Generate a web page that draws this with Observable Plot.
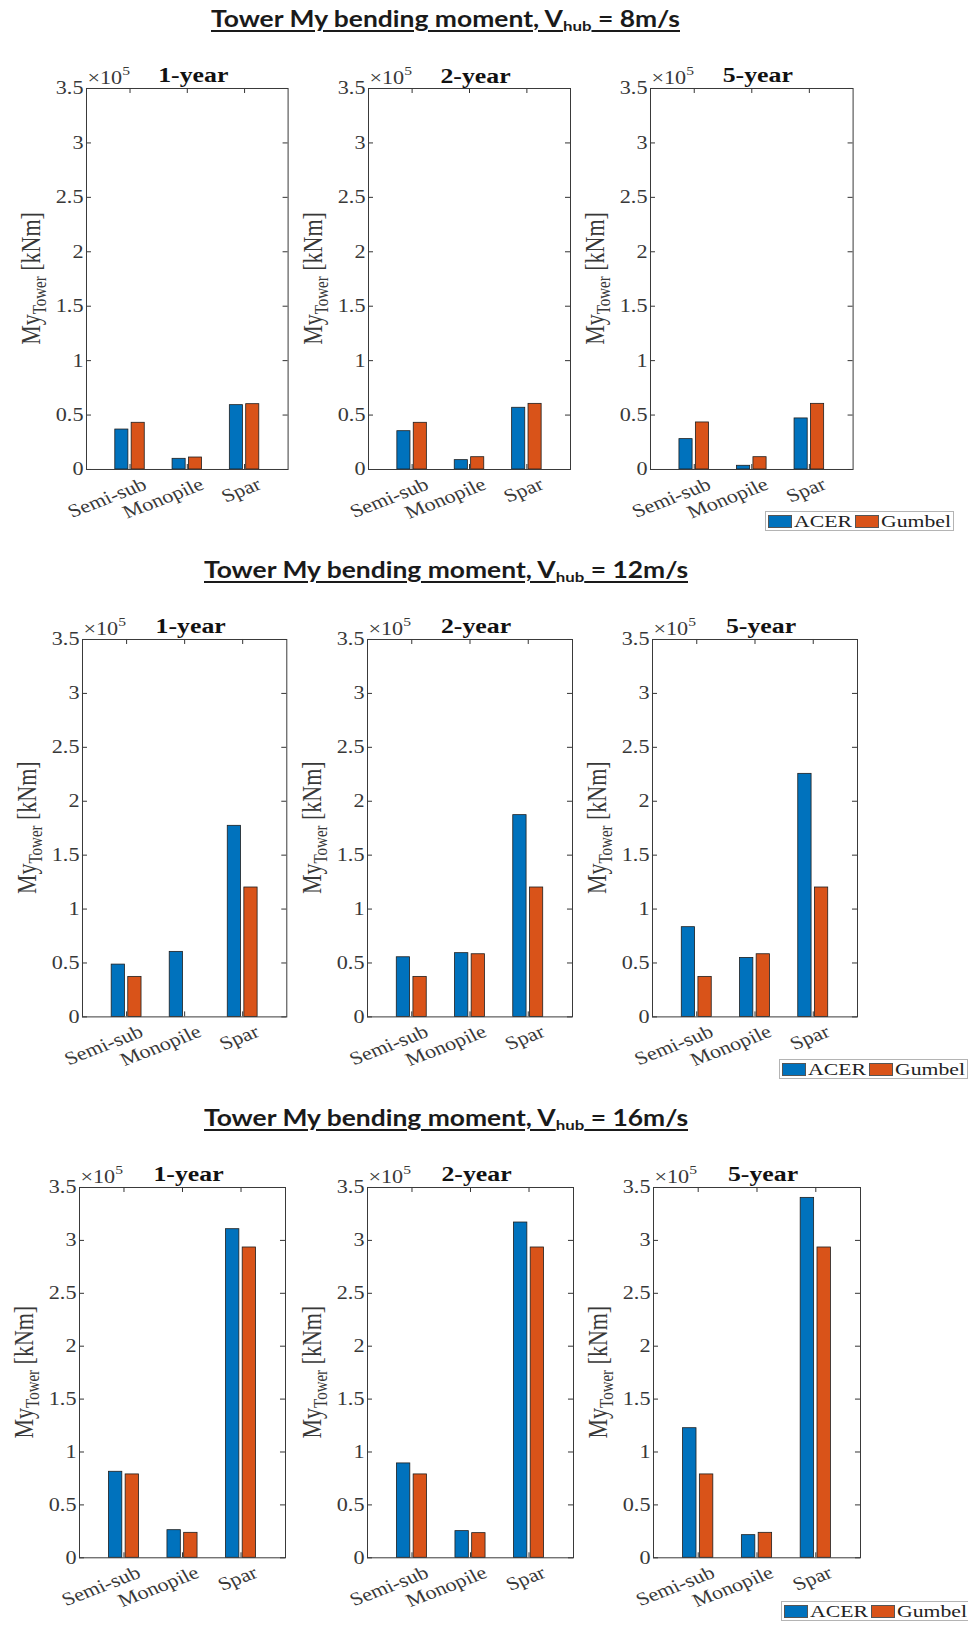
<!DOCTYPE html>
<html><head><meta charset="utf-8">
<script src="https://cdn.jsdelivr.net/npm/d3@7"></script>
<script src="https://cdn.jsdelivr.net/npm/@observablehq/plot@0.6"></script>
<style>
body{margin:0;background:#fff;}
#root{position:relative;width:968px;height:1625px;overflow:hidden;background:#fff;}
.title{position:absolute;font-family:Lato,"Open Sans",sans-serif;font-weight:700;font-size:22px;line-height:22px;color:#1a1a1a;white-space:nowrap;transform-origin:left top;text-decoration:underline;text-decoration-thickness:1.5px;text-underline-offset:3px;}
.title sub{font-size:14px;vertical-align:-4px;line-height:0;}
.panel{position:absolute;}
.legend{position:absolute;border:1px solid #b4b4b4;background:#fff;display:flex;align-items:center;font-family:"Liberation Serif","Times New Roman",serif;font-size:17.5px;color:#222;box-sizing:border-box;padding-left:1px;}
.legend .sw{display:inline-block;width:24px;height:13px;border:1px solid #555;box-sizing:border-box;flex:none;}
.legend .lb{display:inline-block;flex:none;overflow:visible;white-space:nowrap;}
.legend .lb span{display:inline-block;transform-origin:left center;transform:scaleX(1.24);}
</style></head><body><div id="root"></div>
<script>
// ---------- data ----------
const categories = ["Semi-sub", "Monopile", "Spar"];
const series = ["ACER", "Gumbel"];
const periods = ["1-year", "2-year", "5-year"];
const windSpeeds = ["8m/s", "12m/s", "16m/s"];
const yTickValues = [0, 50000, 100000, 150000, 200000, 250000, 300000, 350000];

// Tower My bending moment [kNm]; one row per return period: [Semi-sub, Monopile, Spar]
const acerV8 = [[36700, 9800, 59100], [35200, 8600, 56700], [27900, 3400, 46900]];
const gumbelV8 = [[42900, 11000, 60000], [42900, 11300, 60300], [43200, 11300, 60300]];
const acerV12 = [[48500, 60300, 177200], [55300, 59100, 187100], [83200, 54700, 225400]];
const gumbelV12 = [[37100, 0, 120000], [37100, 58100, 120000], [37100, 58100, 120000]];
const acerV16 = [[81300, 26100, 310600], [89200, 25200, 316900], [122500, 21400, 340200]];
const gumbelV16 = [[78800, 23600, 293300], [78800, 23300, 293300], [78800, 23600, 293300]];

const acerAll = [acerV8, acerV12, acerV16];
const gumbelAll = [gumbelV8, gumbelV12, gumbelV16];

// ---------- layout (styles only) ----------
const layout = [
  {titleBaseline: 27, titleCenter: 445, titleWidth: 469, top: 88.3, bottom: 469.3,
   lefts: [85.7, 368.3, 649.7], rights: [287.3, 570.3, 852.3], legend: {x: 765, y: 511, w: 189, h: 20}},
  {titleBaseline: 578, titleCenter: 446, titleWidth: 484, top: 639.3, bottom: 1016.7,
   lefts: [81.7, 367.3, 652.3], rights: [286, 572.3, 857.3], legend: {x: 779, y: 1059, w: 189, h: 20}},
  {titleBaseline: 1126, titleCenter: 446, titleWidth: 484, top: 1186.7, bottom: 1557,
   lefts: [79.3, 367.3, 653], rights: [285.3, 573.3, 860], legend: {x: 781, y: 1601, w: 189, h: 20}}
];
const STRETCH = 1.2;
const FONT = "'Liberation Serif','Times New Roman',serif";
const root = document.getElementById("root");

function stretchTexts(svg) {
  d3.select(svg).selectAll("text").each(function () {
    const t = this.getAttribute("transform");
    if (t && /translate\(/.test(t)) {
      this.setAttribute("transform", t.replace(/(translate\([^)]*\))/, `$1 scale(${STRETCH},1)`));
    } else {
      const x = +this.getAttribute("x") || 0, y = +this.getAttribute("y") || 0;
      this.setAttribute("transform", `translate(${x},${y}) scale(${STRETCH},1) translate(${-x},${-y})` + (t ? " " + t : ""));
    }
  });
}

function panel(acer, gumbel, pIdx, L) {
  const fl = L.lefts[pIdx], fr = L.rights[pIdx];
  const fw = fr - fl, fh = L.bottom - L.top;
  const ML = 80, MR = 14, MT = 42, MB = 72;
  const rows = [];
  categories.forEach((c, i) => {
    rows.push({cat: c, pos: i + 1, series: series[0], value: acer[i]});
    rows.push({cat: c, pos: i + 1, series: series[1], value: gumbel[i]});
  });
  const groupW = 2 / 3.5, slot = groupW / 2, barW = 0.8 * slot;
  const off = s => (s === series[0] ? -0.5 : 0.5) * slot;
  const svg = Plot.plot({
    width: fw + ML + MR, height: fh + MT + MB,
    marginLeft: ML, marginRight: MR, marginTop: MT, marginBottom: MB,
    x: {domain: [0.24, 3.76], axis: null},
    y: {domain: [0, 350000], axis: null},
    color: {domain: series, range: ["#0072BD", "#D95319"]},
    style: {fontFamily: FONT, fontSize: "18.5px", color: "#333", background: "transparent", overflow: "visible"},
    marks: [
      Plot.rectY(rows, {x1: d => d.pos + off(d.series) - barW / 2, x2: d => d.pos + off(d.series) + barW / 2,
        y1: 0, y2: "value", fill: "series", stroke: "#1f1f1f", strokeWidth: 0.8}),
      Plot.ruleY(yTickValues, {y: d => d, insetRight: fw - 5, stroke: "#333"}),
      Plot.ruleY(yTickValues, {y: d => d, insetLeft: fw - 5, stroke: "#333"}),
      Plot.ruleX([1, 2, 3], {x: d => d, insetBottom: fh - 5, stroke: "#333"}),
      Plot.ruleX([1, 2, 3], {x: d => d, insetTop: fh - 5, stroke: "#333"}),
      Plot.frame({stroke: "#3a3a3a", strokeWidth: 1}),
      Plot.text(yTickValues, {y: d => d, text: d => String(d / 1e5), frameAnchor: "left", textAnchor: "end", dx: -3, fill: "#383838"}),
      Plot.text(categories, {x: (d, i) => i + 1, text: d => d, frameAnchor: "bottom", textAnchor: "end", lineAnchor: "bottom", rotate: -25, dx: 18, dy: 19, fill: "#383838", fontSize: 18.5}),
      Plot.text([periods[pIdx]], {text: d => d, frameAnchor: "top", lineAnchor: "bottom", dx: 6, dy: -6, fontWeight: "bold", fontSize: 21.5, fill: "#111"})
    ]
  });
  stretchTexts(svg);
  // exponent label ×10^5
  const ex = d3.select(svg).append("text")
    .attr("transform", `translate(${ML + 1.5},${MT - 4}) scale(${STRETCH},1)`)
    .attr("text-anchor", "start")
    .attr("fill", "#383838").attr("font-family", FONT).attr("font-size", 18.5);
  ex.append("tspan").text("×10");
  ex.append("tspan").attr("font-size", 13).attr("dy", -9).text("5");
  // y-axis label with subscript
  const yl = d3.select(svg).append("text")
    .attr("transform", `translate(${ML - 46},${MT + fh / 2}) rotate(-90) scale(1,${STRETCH})`)
    .attr("text-anchor", "middle")
    .attr("fill", "#383838")
    .attr("font-family", FONT)
    .attr("font-size", 22);
  yl.append("tspan").text("My");
  yl.append("tspan").attr("font-size", 15).attr("dy", 5).text("Tower");
  yl.append("tspan").attr("dy", -5).text("\u00a0[kNm]");

  svg.classList.add("panel");
  svg.style.left = (fl - ML) + "px";
  svg.style.top = (L.top - MT) + "px";
  svg.style.position = "absolute";
  root.appendChild(svg);
}

function legend(L) {
  const lg = document.createElement("div");
  lg.className = "legend";
  lg.style.left = L.legend.x + "px"; lg.style.top = L.legend.y + "px";
  lg.style.width = L.legend.w + "px"; lg.style.height = L.legend.h + "px";
  const colors = ["#0072BD", "#D95319"];
  const labelW = [57, 70];
  series.forEach((s, i) => {
    const sw = document.createElement("span");
    sw.className = "sw"; sw.style.background = colors[i];
    sw.style.marginLeft = i === 0 ? "1px" : "4px";
    lg.appendChild(sw);
    const lb = document.createElement("span");
    lb.className = "lb"; lb.style.width = labelW[i] + "px"; lb.style.marginLeft = "2px";
    const inner = document.createElement("span"); inner.textContent = s;
    lb.appendChild(inner);
    lg.appendChild(lb);
  });
  root.appendChild(lg);
}

function title(speed, L) {
  const t = document.createElement("div");
  t.className = "title";
  t.innerHTML = `Tower My bending moment, V<sub>hub</sub> = ${speed}`;
  root.appendChild(t);
  const w = t.getBoundingClientRect().width;
  const k = L.titleWidth / w;
  t.style.transform = `scaleX(${k})`;
  t.style.left = (L.titleCenter - L.titleWidth / 2) + "px";
  t.style.top = (L.titleBaseline - 19.5) + "px";
}

layout.forEach((L, r) => {
  title(windSpeeds[r], L);
  periods.forEach((p, pIdx) => panel(acerAll[r][pIdx], gumbelAll[r][pIdx], pIdx, L));
  legend(L);
});
</script></body></html>
